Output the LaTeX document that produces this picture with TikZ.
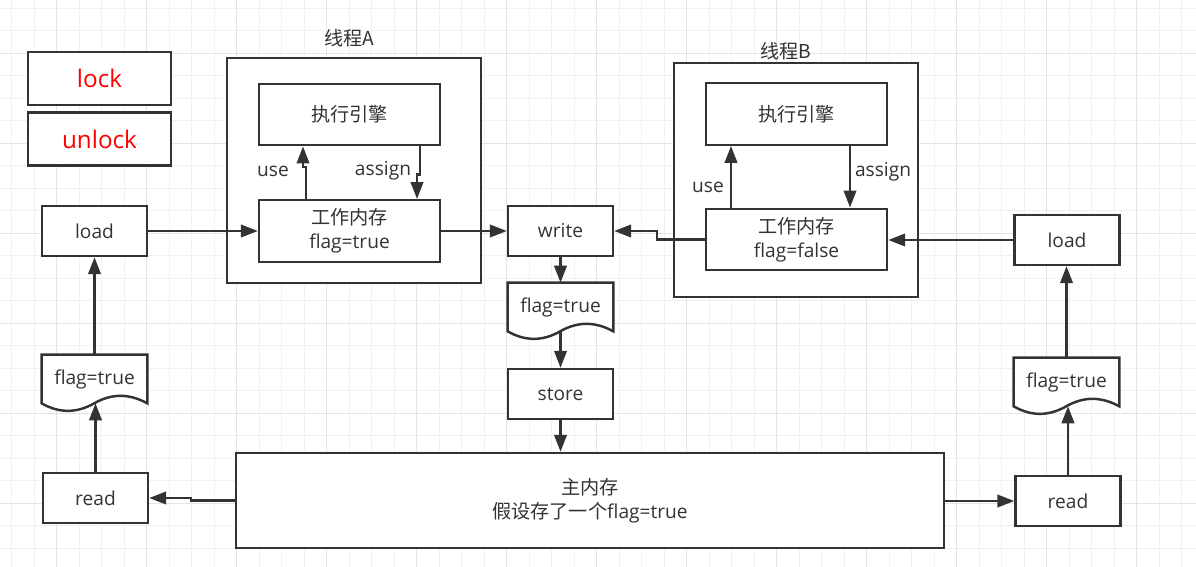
\documentclass[tikz,border=0pt]{standalone}
\usepackage{fontspec}
\setmainfont{Open Sans}
\newfontfamily\cjk{Noto Sans CJK SC}
\usetikzlibrary{arrows.meta,positioning}

\definecolor{ink}{HTML}{333333}
\definecolor{gridminor}{HTML}{F1F1F1}
\definecolor{gridmajor}{HTML}{E4E4E4}

\pgfdeclarelayer{paper}
\pgfdeclarelayer{sheet}
\pgfsetlayers{paper,sheet,main}

% wavy sheet behind a doc node
\newcommand{\docframe}[1]{%
  \begin{pgfonlayer}{sheet}
  \draw[line, fill=white] (#1.north west) -- (#1.north east) -- (#1.south east)
    .. controls ([shift={(87.5,-10)}]#1.south west) and ([shift={(70,-10)}]#1.south west) .. ([shift={(52.5,0)}]#1.south west)
    .. controls ([shift={(35,10)}]#1.south west) and ([shift={(17.5,10)}]#1.south west) .. (#1.south west) -- cycle;
  \end{pgfonlayer}}

\begin{document}
\begin{tikzpicture}[x=0.02cm, y=-0.02cm,
  font=\fontsize{10.9pt}{13.4pt}\selectfont, text=ink,
  line/.style={draw=ink, line width=1.4pt},
  arrow/.style={line, -{Triangle[length=0.34cm, width=0.25cm]}},
  box/.style={line, fill=white, minimum width=2.1cm, minimum height=1cm, inner sep=0pt, align=center},
  mem/.style={box, minimum width=3.62cm, minimum height=1.23cm},
  doc/.style={minimum width=2.1cm, minimum height=0.96cm, inner sep=0pt},
  thread/.style={line, fill=white, inner sep=0pt},
  tag/.style={box, minimum width=2.86cm, minimum height=1.06cm, text=red, font=\fontsize{13.8pt}{16pt}\selectfont}]

\useasboundingbox (0,0) rectangle (1196,567);

\begin{pgfonlayer}{paper}
\fill[white] (0,0) rectangle (1196,567);
\foreach \k in {0,...,52} \draw[gridminor, line width=0.6pt] ({11.7+22.5*\k},0) -- ++(0,567);
\foreach \k in {0,...,24} \draw[gridminor, line width=0.6pt] (0,{8.3+22.5*\k}) -- ++(1196,0);
\foreach \k in {2,6,...,50} \draw[gridmajor, line width=0.6pt] ({11.7+22.5*\k},0) -- ++(0,567);
\foreach \k in {2,6,...,22} \draw[gridmajor, line width=0.6pt] (0,{8.3+22.5*\k}) -- ++(1196,0);
\end{pgfonlayer}

\node[tag] (lock) at (99.5,78.5) {lock};
\node[tag] (unlock) [below=0.1cm of lock] {unlock};

\node[thread, minimum width=5.08cm, minimum height=4.5cm] (thdA) at (354,170.5) {};
\node (labA) at (349,38) {\cjk 线程A};
\node[mem] (exeA) at (349.5,114.5) {\cjk 执行引擎};
\node[mem] (wmA) at (349.5,231) {{\cjk 工作内存}\\flag=true};

\node[thread, minimum width=4.88cm, minimum height=4.68cm] (thdB) at (796,180) {};
\node (labB) at (786,51) {\cjk 线程B};
\node[mem] (exeB) at (796.5,114) {\cjk 执行引擎};
\node[mem] (wmB) at (796.5,239.5) {{\cjk 工作内存}\\flag=false};

\node[box] (loadL) at (94.5,231) {load};
\node[doc] (docL) at (94.5,379) {flag=true};
\node[box] (readL) at (95.5,498) {read};

\node[box] (write) at (560.5,231) {write};
\node[doc] (docM) at (560.5,307) {flag=true};
\node[box] (store) at (560.5,394) {store};

\node[box] (loadR) at (1067,240) {load};
\node[doc] (docR) at (1066.5,382) {flag=true};
\node[box] (readR) at (1068,501) {read};

\node[box, minimum width=14.16cm, minimum height=1.9cm] (main) at (590,500.5) {{\cjk 主内存}\\{\cjk 假设存了一个}flag=true};

\docframe{docL}
\docframe{docM}
\docframe{docR}

\node (useA) at (273,171) {use};
\node (assignA) at (383,171) {assign};
\node (useB) at (708,187) {use};
\node (assignB) at (883,172) {assign};

% inside the threads
\draw[arrow] ([shift={(-43.5,0)}]wmA.north) -- ++(0,-32) -| ([shift={(-46.5,0)}]exeA.south);
\draw[arrow] ([shift={(70.5,0)}]exeA.south) -- ++(0,28) -| ([shift={(67.5,0)}]wmA.north);
\draw[arrow] ([shift={(-65.5,0)}]wmB.north) -- ([shift={(-65.5,0)}]exeB.south);
\draw[arrow] ([shift={(53.5,0)}]exeB.south) -- ([shift={(53.5,0)}]wmB.north);

% thread A side
\draw[arrow] (loadL.east) -- (wmA.west);
\draw[arrow] (wmA.east) -- (write.west);
\draw[arrow] (docL.north) -- (loadL.south);
\draw[arrow] (readL.north) -- (readL.north |- docL.south);
\draw[arrow] (main.west) -- ++(-44,0) |- (readL.east);

% store path
\draw[arrow] (write.south) -- (docM.north);
\draw[arrow] (docM.south) -- (store.north);
\draw[arrow] (store.south) -- (store.south |- main.north);

% thread B side
\draw[arrow] (wmB.west) -- ++(-48,0) |- (write.east);
\draw[arrow] (loadR.west) -- (loadR.west -| wmB.east);
\draw[arrow] (docR.north) -- (docR.north |- loadR.south);
\draw[arrow] (readR.north) -- (readR.north |- docR.south);
\draw[arrow] (main.east |- readR.west) -- (readR.west);

\end{tikzpicture}
\end{document}
